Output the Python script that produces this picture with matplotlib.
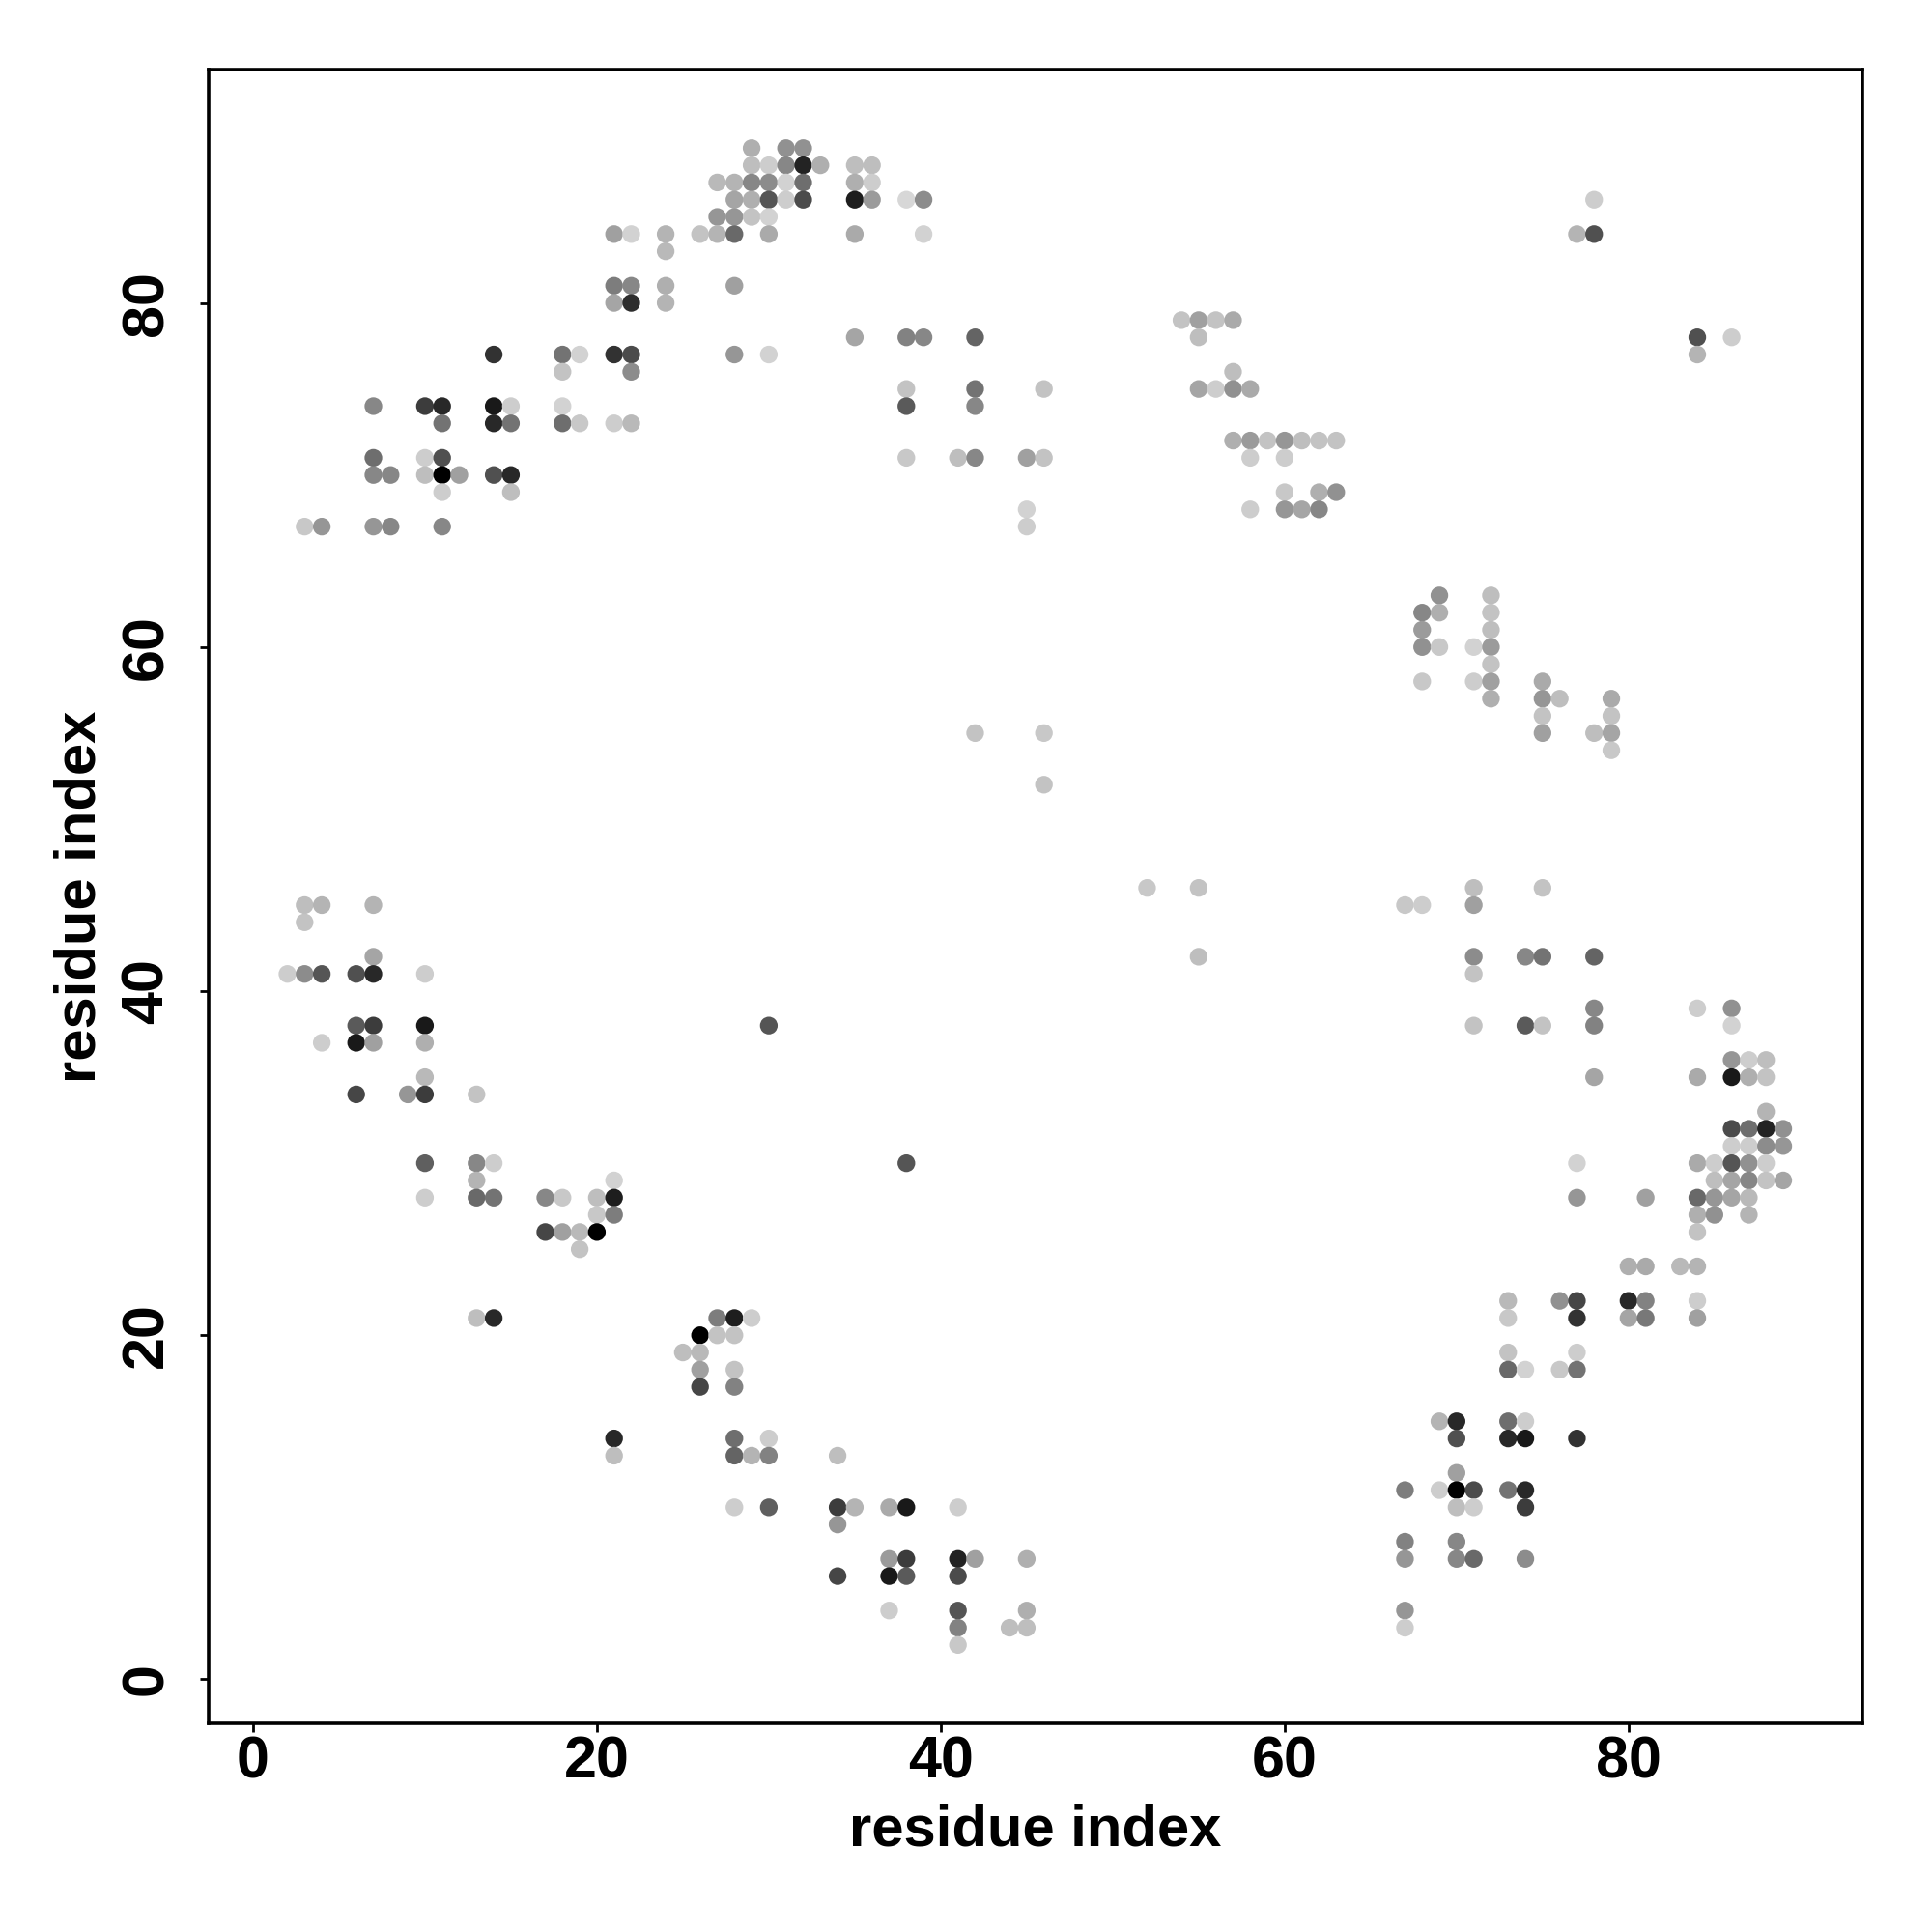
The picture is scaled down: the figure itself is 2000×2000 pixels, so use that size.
import matplotlib
matplotlib.use("Agg")
import matplotlib.pyplot as plt

plt.rcParams['font.family'] = ['Liberation Sans', 'DejaVu Sans']

row_y = [89, 88, 87, 86, 85, 84, 83, 81, 80, 79, 78, 77, 76, 75, 74, 73, 72, 71, 70, 69, 68, 67,
         63, 62, 61, 60, 59, 58, 57, 56, 55, 54, 52, 46, 45, 44, 42, 41, 39, 38, 37, 36, 35, 34,
         33, 32, 31, 30, 29, 28, 27, 26, 25, 24, 22, 21, 20, 19, 18, 17, 15, 14, 13, 12, 11, 10,
         9, 8, 7, 6, 4, 3, 2]
row_x = [
    [29, 31, 32],
    [29, 30, 31, 32, 33, 35, 36],
    [27, 28, 29, 30, 31, 32, 35, 36],
    [28, 29, 30, 31, 32, 35, 36, 38, 39, 78],
    [27, 28, 29, 30],
    [21, 22, 24, 26, 27, 28, 30, 35, 39, 77, 78],
    [24],
    [21, 22, 24, 28],
    [21, 22, 24],
    [54, 55, 56, 57],
    [35, 38, 39, 42, 55, 84, 86],
    [14, 18, 19, 21, 22, 28, 30, 84],
    [18, 22, 57],
    [38, 42, 46, 55, 56, 57, 58],
    [7, 10, 11, 14, 15, 18, 38, 42],
    [11, 14, 15, 18, 19, 21, 22],
    [57, 58, 59, 60, 61, 62, 63],
    [7, 10, 11, 38, 41, 42, 45, 46, 58, 60],
    [7, 8, 10, 11, 12, 14, 15],
    [11, 15, 60, 62, 63],
    [45, 58, 60, 61, 62],
    [3, 4, 7, 8, 11, 45],
    [69, 72],
    [68, 69, 72],
    [68, 72],
    [68, 69, 71, 72],
    [72],
    [68, 71, 72, 75],
    [72, 75, 76, 79],
    [75, 79],
    [42, 46, 75, 78, 79],
    [79],
    [46],
    [52, 55, 71, 75],
    [3, 4, 7, 67, 68, 71],
    [3],
    [7, 55, 71, 74, 75, 78],
    [2, 3, 4, 6, 7, 10, 71],
    [78, 84, 86],
    [6, 7, 10, 30, 71, 74, 75, 78, 86],
    [4, 6, 7, 10],
    [86, 87, 88],
    [10, 78, 84, 86, 87, 88],
    [6, 9, 10, 13],
    [88],
    [86, 87, 88, 89],
    [86, 87, 88, 89],
    [10, 13, 14, 38, 77, 84, 85, 86, 87, 88],
    [13, 21, 85, 86, 87, 88, 89],
    [10, 13, 14, 17, 18, 20, 21, 77, 81, 84, 85, 86, 87],
    [20, 21, 84, 85, 87],
    [17, 18, 19, 20, 84],
    [19],
    [80, 81, 83, 84],
    [73, 76, 77, 80, 81, 84],
    [13, 14, 27, 28, 29, 73, 77, 80, 81, 84],
    [26, 27, 28],
    [25, 26, 73, 77],
    [26, 28, 73, 74, 76, 77],
    [26, 28],
    [69, 70, 73, 74],
    [21, 28, 30, 70, 73, 74, 77],
    [21, 28, 29, 30, 34],
    [70],
    [67, 69, 70, 71, 73, 74],
    [28, 30, 34, 35, 37, 38, 41, 70, 71, 74],
    [34],
    [67, 70],
    [37, 38, 41, 42, 45, 67, 70, 71, 74],
    [34, 37, 38, 41],
    [37, 41, 45, 67],
    [41, 44, 45, 67],
    [41],
]
row_shade = [
    [175, 145, 145],
    [190, 205, 135, 35, 175, 190, 190],
    [185, 180, 135, 140, 210, 110, 175, 205],
    [165, 175, 85, 205, 75, 30, 155, 215, 140, 205],
    [150, 150, 195, 210],
    [160, 210, 180, 195, 180, 105, 170, 170, 210, 180, 80],
    [185],
    [125, 135, 175, 160],
    [165, 45, 180],
    [195, 160, 195, 170],
    [165, 130, 135, 100, 190, 80, 205],
    [50, 115, 210, 50, 75, 150, 210, 180],
    [195, 140, 190],
    [195, 115, 195, 165, 205, 145, 170],
    [135, 60, 40, 25, 205, 210, 90, 135],
    [115, 40, 115, 110, 200, 205, 185],
    [175, 155, 195, 150, 190, 195, 195],
    [110, 205, 80, 200, 190, 135, 160, 195, 205, 205],
    [135, 135, 190, 0, 160, 80, 40],
    [205, 190, 200, 175, 145],
    [210, 205, 150, 165, 135],
    [200, 150, 150, 135, 135, 205],
    [145, 190],
    [135, 175, 195],
    [155, 190],
    [145, 200, 210, 155],
    [195],
    [200, 205, 160, 170],
    [175, 150, 190, 170],
    [195, 195],
    [195, 200, 160, 190, 165],
    [200],
    [195],
    [200, 195, 190, 195],
    [190, 180, 180, 200, 205, 160],
    [195],
    [165, 190, 140, 135, 115, 100],
    [205, 140, 85, 80, 40, 205, 195],
    [135, 205, 145],
    [90, 60, 25, 85, 195, 90, 195, 130, 210],
    [205, 25, 160, 175],
    [150, 205, 190],
    [185, 165, 170, 25, 175, 195],
    [70, 150, 60, 195],
    [180],
    [75, 110, 35, 145],
    [205, 205, 140, 150],
    [95, 135, 205, 85, 210, 170, 205, 85, 145, 205],
    [180, 210, 190, 165, 135, 195, 165],
    [205, 105, 115, 135, 200, 190, 30, 150, 160, 105, 150, 165, 185],
    [200, 125, 175, 145, 180],
    [70, 160, 185, 0, 195],
    [195],
    [175, 170, 185, 180],
    [185, 145, 70, 40, 130, 205],
    [190, 40, 125, 30, 205, 200, 50, 165, 120, 160],
    [0, 195, 195],
    [190, 185, 195, 205],
    [160, 195, 105, 210, 200, 115],
    [70, 130],
    [180, 40, 110, 205],
    [40, 110, 205, 80, 40, 25, 50],
    [190, 100, 180, 130, 190],
    [160],
    [125, 205, 0, 75, 115, 40],
    [205, 95, 60, 180, 170, 25, 205, 190, 205, 60],
    [150],
    [130, 135],
    [155, 60, 35, 160, 175, 150, 135, 105, 140],
    [70, 25, 90, 75],
    [205, 85, 175, 150],
    [130, 190, 190, 205],
    [200],
]
tick_values = [0, 20, 40, 60, 80]
axis_label = "residue index"

xs, ys, colors = [], [], []
for y, row, shades in zip(row_y, row_x, row_shade):
    assert len(row) == len(shades), y
    for x, g in zip(row, shades):
        xs.append(x)
        ys.append(y)
        colors.append((g / 255, g / 255, g / 255))

fig = plt.figure(figsize=(20, 20), dpi=100)
ax = fig.add_axes([216 / 2000, 1 - 1784 / 2000, (1928 - 216) / 2000, (1784 - 72) / 2000])
ax.scatter(xs, ys, s=174, c=colors, linewidths=0, zorder=2)
ax.set_xlim(-2.58, 93.606)
ax.set_ylim(-2.556, 93.564)
ax.set_xticks(tick_values)
ax.set_yticks(tick_values)
ax.tick_params(axis='x', length=6.5, width=2.0, labelsize=44, pad=2.5)
ax.tick_params(axis='y', length=6.5, width=2.0, labelsize=44, pad=18.5)
for lab in ax.get_xticklabels():
    lab.set_fontweight('bold')
for lab in ax.get_yticklabels():
    lab.set_fontweight('bold')
    lab.set_rotation(90)
    lab.set_va('center')
for sp in ax.spines.values():
    sp.set_linewidth(2.6)
ax.set_xlabel(axis_label, fontsize=43, fontweight='bold', labelpad=10)
ax.set_ylabel(axis_label, fontsize=43, fontweight='bold', labelpad=10)
fig.savefig("out.png", dpi=100)
